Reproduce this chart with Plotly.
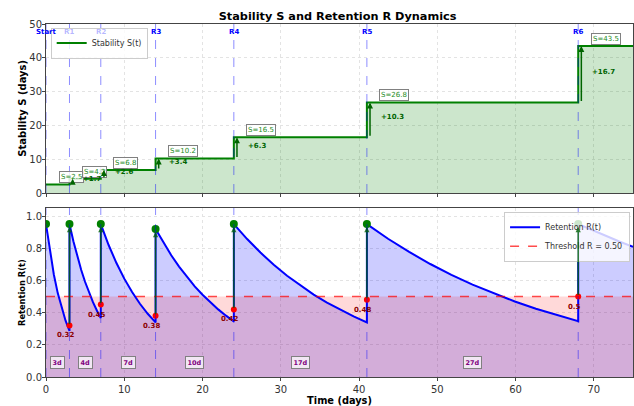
import plotly.graph_objects as go

# ---------------- data ----------------
review_t = [0, 3, 7, 14, 24, 41, 68]
review_lbl = ["Start", "R1", "R2", "R3", "R4", "R5", "R6"]
stability = [2.5, 4.2, 6.8, 10.2, 16.5, 26.8, 43.5]
increments = ["+1.7", "+2.6", "+3.4", "+6.3", "+10.3", "+16.7"]
t_end = 75

r_before = [0.32, 0.45, 0.38, 0.42, 0.48, 0.50]      # red dots at reviews R1..R6
r_before_lbl = ["0.32", "0.45", "0.38", "0.42", "0.48", "0.5"]
r_after = [0.95, 0.95, 0.95, 0.92, 0.95, 0.95, 0.95]  # green dots (Start..R6)
interval_lbl = ["3d", "4d", "7d", "10d", "17d", "27d"]
threshold = 0.50

# retention curve, one list per segment
seg_t = [
    [0, 0.5, 1, 1.5, 2, 2.5, 3],
    [3, 3.5, 4, 4.5, 5, 5.5, 6, 6.5, 7],
    [7, 8, 9, 10, 11, 12, 13, 14],
    [14, 15, 16, 17, 18, 19, 20, 21, 22, 23, 24],
    [24, 25.7, 27.4, 29.1, 30.8, 32.5, 34.2, 35.9, 37.6, 39.3, 41],
    [41, 43.7, 46.4, 49.1, 51.8, 54.5, 57.2, 59.9, 62.6, 65.3, 68],
    [68, 69.75, 71.5, 73.25, 75],
]
seg_r = [
    [0.950, 0.778, 0.637, 0.521, 0.427, 0.350, 0.286],
    [0.950, 0.843, 0.749, 0.665, 0.590, 0.524, 0.465, 0.413, 0.367],
    [0.950, 0.820, 0.708, 0.611, 0.528, 0.455, 0.393, 0.339],
    [0.920, 0.834, 0.756, 0.686, 0.622, 0.563, 0.511, 0.463, 0.420, 0.381, 0.345],
    [0.950, 0.857, 0.773, 0.697, 0.629, 0.568, 0.512, 0.462, 0.417, 0.376, 0.339],
    [0.950, 0.859, 0.777, 0.702, 0.635, 0.574, 0.519, 0.469, 0.424, 0.384, 0.347],
    [0.950, 0.913, 0.877, 0.842, 0.809],
]

FONT = "DejaVu Sans"
GREEN = "rgb(0,128,0)"
DKGREEN = "rgb(0,100,0)"
BLUE = "rgb(0,0,255)"

fig = go.Figure()

# ---------- top panel ----------
step_x = review_t + [t_end]
step_y = stability + [stability[-1]]
fig.add_trace(go.Scatter(x=step_x, y=step_y, mode="lines", line=dict(shape="hv", width=0),
                         fill="tozeroy", fillcolor="rgba(0,128,0,0.2)", showlegend=False,
                         hoverinfo="skip", xaxis="x", yaxis="y"))
fig.add_trace(go.Scatter(x=step_x, y=step_y, mode="lines", line=dict(shape="hv", width=2, color=GREEN),
                         name="Stability S(t)", legend="legend", xaxis="x", yaxis="y"))

# ---------- bottom panel ----------
all_t, all_r = [], []
for ts, rs in zip(seg_t, seg_r):
    all_t += ts
    all_r += rs
fig.add_trace(go.Scatter(x=all_t, y=all_r, mode="lines", line=dict(width=0),
                         fill="tozeroy", fillcolor="rgba(0,0,255,0.2)", showlegend=False,
                         hoverinfo="skip", xaxis="x2", yaxis="y2"))
fig.add_trace(go.Scatter(x=[0, t_end], y=[threshold, threshold], mode="lines", line=dict(width=0),
                         fill="tozeroy", fillcolor="rgba(255,0,0,0.15)", showlegend=False,
                         hoverinfo="skip", xaxis="x2", yaxis="y2"))
fig.add_trace(go.Scatter(x=all_t, y=all_r, mode="lines", line=dict(color=BLUE, width=2),
                         name="Retention R(t)", legend="legend2", xaxis="x2", yaxis="y2"))
fig.add_trace(go.Scatter(x=[0, t_end], y=[threshold, threshold], mode="lines",
                         line=dict(color="rgba(255,0,0,0.7)", width=1.5, dash="dash"),
                         name="Threshold R = 0.50", legend="legend2", xaxis="x2", yaxis="y2"))
fig.add_trace(go.Scatter(x=review_t[1:], y=r_before, mode="markers",
                         marker=dict(color="red", size=6), showlegend=False,
                         xaxis="x2", yaxis="y2"))
fig.add_trace(go.Scatter(x=review_t, y=r_after, mode="markers",
                         marker=dict(color=GREEN, size=8), showlegend=False,
                         xaxis="x2", yaxis="y2"))

# review lines (both panels)
shapes = []
for t in review_t:
    for xr, yr, top in (("x", "y", 50), ("x2", "y2", 1.05)):
        shapes.append(dict(type="line", x0=t, x1=t, y0=0, y1=top, xref=xr, yref=yr, layer="above",
                           line=dict(color="rgba(0,0,255,0.45)", width=1, dash="dash")))

ann = []
# axis titles for the y axes (placed like the original)
ann.append(dict(x=-0.0405, y=0.7606, xref="paper", yref="paper", xanchor="center", yanchor="middle",
                text="<b>Stability S (days)</b>", textangle=-90, showarrow=False,
                font=dict(family=FONT, size=10, color="black")))
ann.append(dict(x=-0.0400, y=0.2394, xref="paper", yref="paper", xanchor="center", yanchor="middle",
                text="<b>Retention R(t)</b>", textangle=-90, showarrow=False,
                font=dict(family=FONT, size=8.3, color="black")))
# review labels on top (R1, R2 sit behind the legend box in the original)
lbl_colors = [BLUE, "rgba(0,0,255,0.3)", "rgba(0,0,255,0.3)", BLUE, BLUE, BLUE, BLUE]
for t, lbl, c in zip(review_t, review_lbl, lbl_colors):
    ann.append(dict(x=t, y=47.7, xref="x", yref="y", text="<b>%s</b>" % lbl, showarrow=False,
                    font=dict(family=FONT, size=7, color=c)))
# stability boxes
for t, s in zip(review_t, stability):
    ann.append(dict(x=t + 1.6, y=s + 2.1, xref="x", yref="y", text="S=%g" % s, showarrow=False,
                    xanchor="left", font=dict(family=FONT, size=7, color="rgb(34,139,34)"),
                    bgcolor="rgba(255,255,255,0.85)", bordercolor="gray", borderwidth=1, borderpad=1))
# increment arrows
for i in range(1, len(review_t)):
    t = review_t[i]
    ann.append(dict(x=t + 0.4, y=stability[i], ax=t + 0.4, ay=stability[i - 1], xref="x", yref="y",
                    axref="x", ayref="y", text="", showarrow=True, arrowhead=2, arrowsize=0.8,
                    arrowwidth=1.5, arrowcolor=DKGREEN))
    ann.append(dict(x=t + 1.5, y=(stability[i] + stability[i - 1]) / 2 + 0.7, xref="x", yref="y",
                    text="<b>%s</b>" % increments[i - 1], showarrow=False, xanchor="left",
                    font=dict(family=FONT, size=7, color=DKGREEN)))
# green arrows in bottom panel
for i in range(1, len(review_t)):
    t = review_t[i]
    ann.append(dict(x=t, y=r_after[i], ax=t, ay=r_before[i - 1], xref="x2", yref="y2",
                    axref="x2", ayref="y2", text="", showarrow=True, arrowhead=2, arrowsize=0.7,
                    arrowwidth=1.5, arrowcolor="rgba(0,100,0,0.8)", standoff=3))
    ann.append(dict(x=t - 0.5, y=r_before[i - 1], yshift=-10, xref="x2", yref="y2",
                    text="<b>%s</b>" % r_before_lbl[i - 1], showarrow=False,
                    font=dict(family=FONT, size=7, color="rgb(139,0,0)")))
# interval labels
for i in range(len(interval_lbl)):
    mid = (review_t[i] + review_t[i + 1]) / 2
    ann.append(dict(x=mid, y=0.09, xref="x2", yref="y2", text="<b>%s</b>" % interval_lbl[i],
                    showarrow=False, font=dict(family=FONT, size=6.5, color="purple"),
                    bgcolor="rgba(255,255,255,0.7)", bordercolor="gray", borderwidth=1, borderpad=1.5))

axis_common = dict(showline=True, linecolor="#444", linewidth=1, mirror=True, ticks="outside",
                   ticklen=3, tickcolor="#444", tickfont=dict(family=FONT, size=10, color="#333"),
                   showgrid=True, gridcolor="#e3e3e3", griddash="dot", zeroline=False, automargin=False)

fig.update_layout(
    template="none",
    width=634, height=406,
    margin=dict(l=46, r=1, t=24, b=29),
    paper_bgcolor="white", plot_bgcolor="white",
    title=dict(text="<b>Stability S and Retention R Dynamics</b>", x=0.5325, xanchor="center",
               y=0.96, yanchor="middle", font=dict(family=FONT, size=11.3, color="black")),
    xaxis=dict(domain=[0, 1], range=[0, t_end], anchor="y", showticklabels=False, dtick=10, **axis_common),
    yaxis=dict(domain=[0.5212, 1], range=[0, 50], dtick=10, anchor="x", ticklabelstandoff=-2,
               **axis_common),
    xaxis2=dict(domain=[0, 1], range=[0, t_end], anchor="y2", matches="x", dtick=10,
                title=dict(text="<b>Time (days)</b>", font=dict(family=FONT, size=9.8, color="black"),
                           standoff=0), **axis_common),
    yaxis2=dict(domain=[0, 0.4788], range=[0, 1.05], dtick=0.2, tickformat=".1f", anchor="x2",
                ticklabelstandoff=-2, **axis_common),
    legend=dict(x=0.008, y=0.99, xanchor="left", yanchor="top", bgcolor="rgba(255,255,255,0.8)",
                bordercolor="#ccc", borderwidth=1, font=dict(family=FONT, size=8, color="#333"),
                itemwidth=30, tracegroupgap=0),
    legend2=dict(x=0.995, y=0.468, xanchor="right", yanchor="top", bgcolor="rgba(255,255,255,0.8)",
                 bordercolor="#ccc", borderwidth=1, font=dict(family=FONT, size=8, color="#333"),
                 itemwidth=30, tracegroupgap=0),
    annotations=ann,
    shapes=shapes,
    showlegend=True,
)

fig.write_html("out.html")
